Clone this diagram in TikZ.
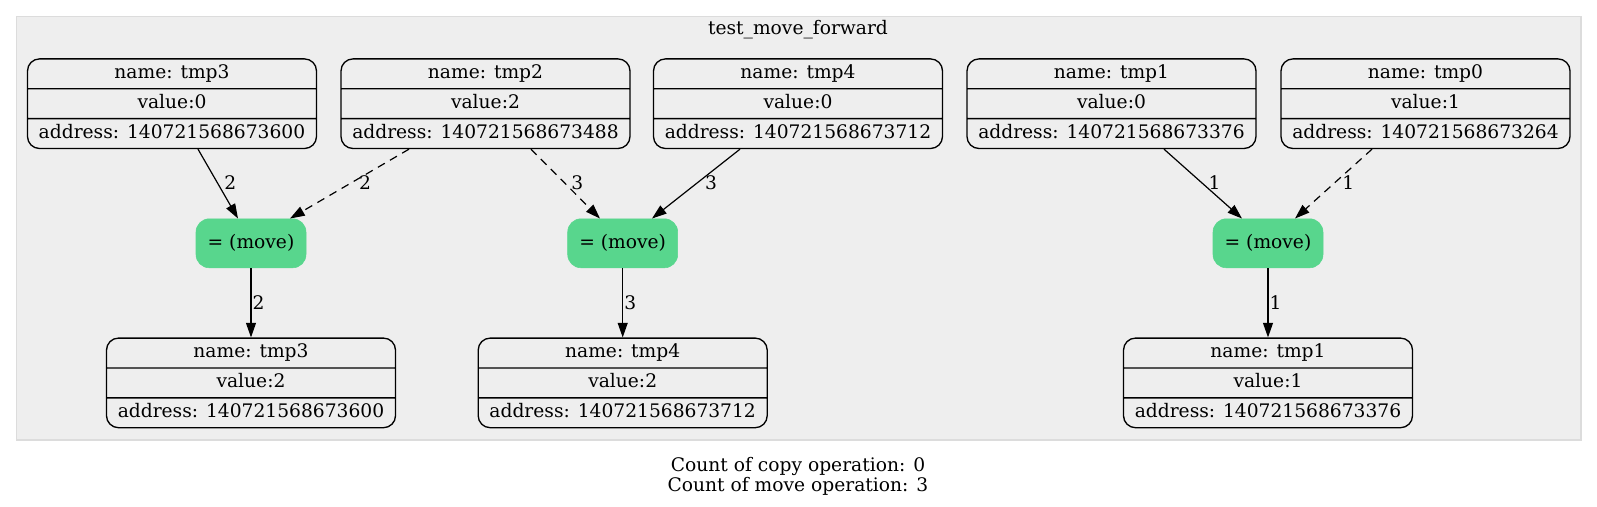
\documentclass[tikz,border=0pt]{standalone}
\usepackage{fontspec}
\setmainfont{DejaVu Serif}
\usetikzlibrary{shapes.multipart,arrows.meta,calc}
\definecolor{clfill}{HTML}{EEEEEE}
\definecolor{cldraw}{HTML}{DCDCDC}
\definecolor{mgreen}{HTML}{58D68D}
\newcommand\gvfont{\fontsize{14}{15}\selectfont}
\newcommand\rst{\rule[-3.4pt]{0pt}{14.2pt}}
\tikzset{
  record/.style={rectangle split, rectangle split parts=3, draw=black, line width=1pt,
    rounded corners=9pt, minimum width=216.75pt, inner ysep=3.6pt, inner xsep=3pt,
    font=\gvfont, text=black},
  movebox/.style={fill=mgreen, draw=mgreen, rounded corners=10pt, minimum width=82.5pt,
    minimum height=36.75pt, inner sep=0pt, font=\gvfont},
  edge/.style={line width=0.9pt, -{Triangle[length=11pt,width=7.5pt]}},
  dedge/.style={edge, dash pattern=on 6pt off 4.5pt},
  dlab/.style={font=\gvfont, anchor=west, inner sep=0pt, xshift=5pt, pos=0.48},
  vlab/.style={font=\gvfont, anchor=west, inner sep=0pt, xshift=0.8pt, pos=0.5}
}
\begin{document}
\begin{tikzpicture}[x=0.75pt,y=-0.75pt]
\useasboundingbox (0,0) rectangle (1597,507);
\draw[cldraw, fill=clfill, line width=0.9pt] (16.3,16.3) rectangle (1581,440);
\node[font=\gvfont, inner sep=0pt] (title) at (798,29.5) {test\_move\_forward};

% top records
\node[record] (r3) at (172,103.7) {\rst name: tmp3\nodepart{two}\rst value:0\nodepart{three}\rst address: 140721568673600};
\node[record] (r2) at (485.5,103.7) {\rst name: tmp2\nodepart{two}\rst value:2\nodepart{three}\rst address: 140721568673488};
\node[record] (r4) at (798,103.7) {\rst name: tmp4\nodepart{two}\rst value:0\nodepart{three}\rst address: 140721568673712};
\node[record] (r1) at (1111.5,103.7) {\rst name: tmp1\nodepart{two}\rst value:0\nodepart{three}\rst address: 140721568673376};
\node[record] (r0) at (1425.5,103.7) {\rst name: tmp0\nodepart{two}\rst value:1\nodepart{three}\rst address: 140721568673264};

% move nodes
\node[movebox] (m1) at (251,243.3) {= (move)};
\node[movebox] (m2) at (622.7,243.3) {= (move)};
\node[movebox] (m3) at (1268,243.3) {= (move)};

% bottom records
\node[record] (b3) at (251,382.9) {\rst name: tmp3\nodepart{two}\rst value:2\nodepart{three}\rst address: 140721568673600};
\node[record] (b4) at (622.7,382.9) {\rst name: tmp4\nodepart{two}\rst value:2\nodepart{three}\rst address: 140721568673712};
\node[record] (b1) at (1268,382.9) {\rst name: tmp1\nodepart{two}\rst value:1\nodepart{three}\rst address: 140721568673376};

% edges
\draw[edge] ($(r3.south)+(26,0)$) -- node[dlab]{2} ($(m1.north)+(-13,0)$);
\draw[dedge] ($(r2.south)+(-76.5,0)$) -- node[dlab]{2} ($(m1.north)+(39,0)$);
\draw[dedge] ($(r2.south)+(45.5,0)$) -- node[dlab]{3} ($(m2.north)+(-22.7,0)$);
\draw[edge] ($(r4.south)+(-58,0)$) -- node[dlab]{3} ($(m2.north)+(29.3,0)$);
\draw[edge] ($(r1.south)+(52.5,0)$) -- node[dlab]{1} ($(m3.north)+(-26,0)$);
\draw[dedge] ($(r0.south)+(-53.5,0)$) -- node[dlab]{1} ($(m3.north)+(27,0)$);

\draw[edge] (m1.south) -- node[vlab]{2} (b3.north);
\draw[edge] (m2.south) -- node[vlab]{3} (b4.north);
\draw[edge] (m3.south) -- node[vlab]{1} (b1.north);

\node[font=\gvfont, align=center, inner sep=0pt] (cap) at (798,476) {Count of copy operation: 0\\Count of move operation: 3};
\end{tikzpicture}
\end{document}
